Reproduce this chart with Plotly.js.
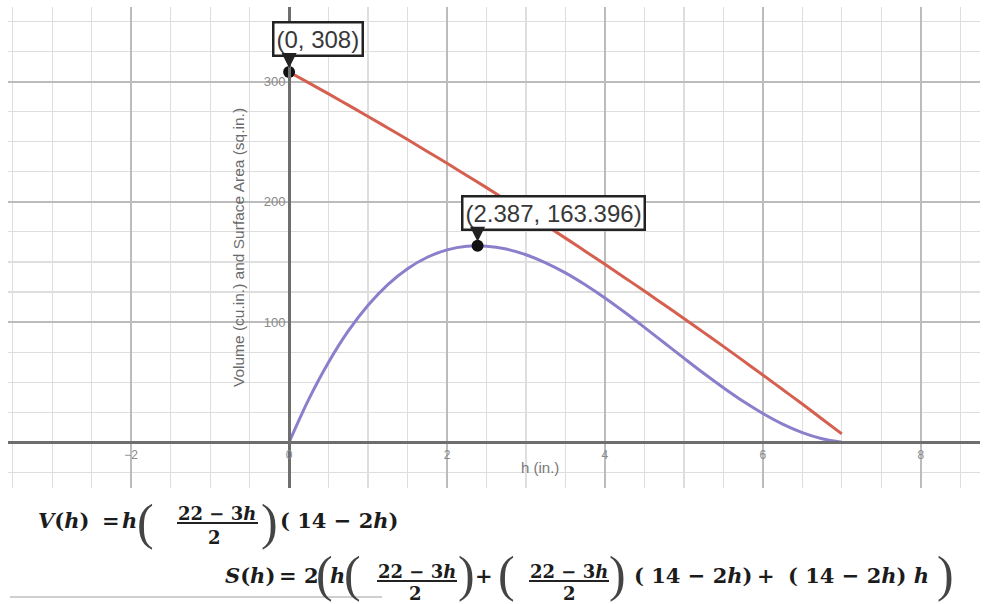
<!DOCTYPE html>
<html>
<head>
<meta charset="utf-8">
<script src="https://cdn.plot.ly/plotly-3.0.1.min.js"></script>
<style>
  html, body { margin: 0; padding: 0; background: #fff; }
  #chart { width: 985px; height: 604px; }
</style>
</head>
<body>
<div id="chart"></div>
<script>
// h values (in.) and the two curves
var hVals = [0, 0.25, 0.5, 0.75, 1, 1.25, 1.5, 1.75, 2, 2.25, 2.5, 2.75, 3, 3.25, 3.5,
             3.75, 4, 4.25, 4.5, 4.75, 5, 5.25, 5.5, 5.75, 6, 6.25, 6.5, 6.75, 7];
var volume = [0, 35.9, 66.6, 92.6, 114, 131.2, 144.4, 153.9, 160, 163.0, 163.1, 160.7, 156, 149.3, 140.9,
              131.0, 120, 108.1, 95.6, 82.8, 70, 57.4, 45.4, 34.1, 24, 15.2, 8.1, 3.0, 0];
var surface = [308, 298.9, 289.8, 280.4, 271, 261.4, 251.8, 241.9, 232, 221.9, 211.8, 201.4, 191, 180.4, 169.8,
               158.9, 148, 136.9, 125.8, 114.4, 103, 91.4, 79.8, 67.9, 56, 43.9, 31.8, 19.4, 7];

// labelled points
var markX = [0, 2.387];
var markY = [308, 163.396];
var markText = ['(0, 308)', '(2.387, 163.396)'];

// axes
var xRange = [-3.56, 8.75];
var yRange = [-38, 362];
var xTicks = [-2, 0, 2, 4, 6, 8];
var yTicks = [100, 200, 300];

// plot area in page pixels, used to place the formulas underneath
var L = 8, R = 980, T = 7, B = 488;
function px(x) { return (x - L) / (R - L); }
function py(y) { return (B - y) / (B - T); }

var traces = [
  { x: hVals, y: surface, type: 'scatter', mode: 'lines', line: { color: '#d5604f', width: 3, shape: 'spline' } },
  { x: hVals, y: volume, type: 'scatter', mode: 'lines', line: { color: '#8b7fcc', width: 3, shape: 'spline' } },
  { x: markX, y: markY, type: 'scatter', mode: 'markers', marker: { color: '#111', size: 12 } }
];

var annotations = [];
for (var i = 0; i < markX.length; i++) {
  annotations.push({
    x: markX[i], y: markY[i], text: markText[i], showarrow: false,
    xanchor: 'left', yanchor: 'bottom', xshift: -17, yshift: 15,
    font: { family: 'Liberation Sans, Arial', size: 24, color: '#383838' },
    bgcolor: '#fff', bordercolor: '#222', borderwidth: 2.5, borderpad: 2
  });
  annotations.push({
    x: markX[i], y: markY[i], text: '', showarrow: true, ax: 0, ay: -17,
    arrowhead: 2, arrowsize: 1, arrowwidth: 3, standoff: 4, arrowcolor: '#222'
  });
}

annotations.push({
  xref: 'paper', yref: 'paper', x: px(540), y: py(467), text: 'h (in.)', showarrow: false,
  xanchor: 'center', yanchor: 'middle',
  font: { family: 'Liberation Sans, Arial', size: 15, color: '#777' }
});

// formula pieces: [text, centre x, centre y, kind]
var M = 'DejaVu Serif, serif';
var pieces = [
  ['<b><i>V</i>(<i>h</i>)</b>', 63, 520, 'm'],
  ['<b>=</b>', 111, 520, 'm'],
  ['<b><i>h</i></b>', 129, 520, 'm'],
  ['(', 145, 522, 'p'],
  ['<b>22 − 3<i>h</i></b>', 217, 513, 'f'],
  ['<b>2</b>', 214, 537, 'f'],
  [')', 269, 522, 'p'],
  ['<b>( 14 − 2<i>h</i>)</b>', 339, 520, 'm'],

  ['<b><i>S</i>(<i>h</i>)</b>', 250, 575, 'm'],
  ['<b>=</b>', 288, 575, 'm'],
  ['<b>2</b>', 311, 575, 'm'],
  ['(', 324, 574, 'p'],
  ['<b><i>h</i></b>', 337, 575, 'm'],
  ['(', 352, 574, 'p'],
  ['<b>22 − 3<i>h</i></b>', 417, 571, 'f'],
  ['<b>2</b>', 415, 593, 'f'],
  [')', 466, 574, 'p'],
  ['<b>+</b>', 484, 575, 'm'],
  ['(', 506, 574, 'p'],
  ['<b>22 − 3<i>h</i></b>', 569, 571, 'f'],
  ['<b>2</b>', 569, 593, 'f'],
  [')', 617, 574, 'p'],
  ['<b>( 14 − 2<i>h</i>)</b>', 693, 575, 'm'],
  ['<b>+</b>', 766, 575, 'm'],
  ['<b>( 14 − 2<i>h</i>) <i>h</i></b>', 858, 575, 'm'],
  [')', 945, 574, 'p']
];
pieces.forEach(function (p) {
  var font = p[3] === 'p' ? { family: 'Liberation Serif, serif', size: 50, color: '#444' }
           : { family: M, size: p[3] === 'f' ? 18 : 21, color: '#1c1c1c' };
  annotations.push({
    xref: 'paper', yref: 'paper', x: px(p[1]), y: py(p[2]), text: p[0], showarrow: false,
    xanchor: 'center', yanchor: 'middle', font: font
  });
});

// fraction bars
var bars = [[177, 258, 523], [377, 457, 581], [529, 609, 581]];
var shapes = bars.map(function (b) {
  return { type: 'line', xref: 'paper', yref: 'paper', x0: px(b[0]), x1: px(b[1]), y0: py(b[2]), y1: py(b[2]),
           line: { color: '#222', width: 2 } };
});
shapes.push({ type: 'line', xref: 'paper', yref: 'paper', x0: px(10), x1: px(382), y0: py(597), y1: py(597),
              line: { color: '#cfcfcf', width: 2 } });

var layout = {
  width: 985, height: 604,
  paper_bgcolor: '#fff', plot_bgcolor: '#fff',
  showlegend: false, hovermode: false,
  margin: { l: L, r: 985 - R, t: T, b: 604 - B, pad: 0 },
  xaxis: {
    range: xRange, tickvals: xTicks, anchor: 'free',
    position: -yRange[0] / (yRange[1] - yRange[0]),
    showline: true, linecolor: '#6e6e6e', linewidth: 3, zeroline: false,
    gridcolor: '#bcbcbc', gridwidth: 2,
    minor: { tickmode: 'linear', tick0: 0, dtick: 0.5, showgrid: true, gridcolor: '#dedede', gridwidth: 1.2 },
    ticks: '', tickfont: { family: 'Liberation Sans, Arial', size: 12, color: '#8a8a8a' }
  },
  yaxis: {
    range: yRange, tickvals: yTicks, anchor: 'free',
    position: -xRange[0] / (xRange[1] - xRange[0]),
    showline: true, linecolor: '#6e6e6e', linewidth: 3, zeroline: false,
    gridcolor: '#bcbcbc', gridwidth: 2,
    minor: { tickmode: 'linear', tick0: 0, dtick: 25, showgrid: true, gridcolor: '#dedede', gridwidth: 1.2 },
    ticks: '', tickfont: { family: 'Liberation Sans, Arial', size: 13, color: '#8a8a8a' },
    title: { text: 'Volume (cu.in.) and Surface Area (sq.in.)', standoff: 14,
             font: { family: 'Liberation Sans, Arial', size: 15.5, color: '#6a6a6a' } }
  },
  annotations: annotations,
  shapes: shapes
};

Plotly.newPlot('chart', traces, layout, { displayModeBar: false, staticPlot: true });
</script>
</body>
</html>
